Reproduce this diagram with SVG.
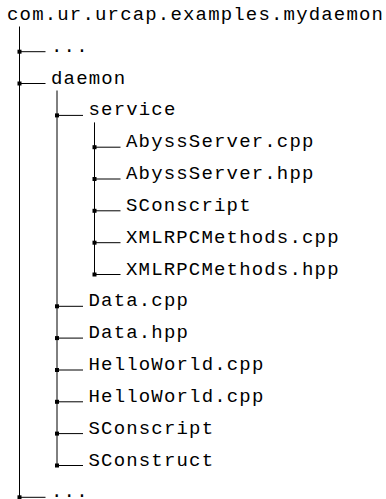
<svg xmlns="http://www.w3.org/2000/svg" width="386" height="499" viewBox="0 0 386 499">
  <style>
    text { font-family: "Liberation Mono", "DejaVu Sans Mono", monospace; font-size: 19px; letter-spacing: 1.17px; fill: #000; }
    .ln { stroke: #000; stroke-width: 1; fill: none; }
    .dot { fill: #000; }
  </style>
  <defs>
    <!-- one branch: junction square + horizontal stub -->
    <g id="branch">
      <line class="ln" x1="0" y1="0" x2="26" y2="0"/>
      <rect class="dot" x="-2" y="-2" width="4" height="4"/>
    </g>
  </defs>

  <!-- tree trunks and branches -->
  <g id="connectors">
    <line class="ln" x1="19.5" y1="26.5" x2="19.5" y2="497.3"/>
    <line class="ln" x1="57" y1="90.5" x2="57" y2="465.5"/>
    <line class="ln" x1="94.5" y1="122.4" x2="94.5" y2="274.5"/>

    <use href="#branch" x="19.5" y="51.7"/>
    <use href="#branch" x="19.5" y="83.5"/>
    <use href="#branch" x="57" y="115.4"/>
    <use href="#branch" x="94.5" y="147.2"/>
    <use href="#branch" x="94.5" y="179.0"/>
    <use href="#branch" x="94.5" y="210.8"/>
    <use href="#branch" x="94.5" y="242.7"/>
    <use href="#branch" x="94.5" y="274.5"/>
    <use href="#branch" x="57" y="306.3"/>
    <use href="#branch" x="57" y="338.1"/>
    <use href="#branch" x="57" y="370.0"/>
    <use href="#branch" x="57" y="401.8"/>
    <use href="#branch" x="57" y="433.6"/>
    <use href="#branch" x="57" y="465.5"/>
    <use href="#branch" x="19.5" y="497.3"/>
  </g>

  <g id="root"><text x="7" y="19.5">com.ur.urcap.examples.mydaemon</text></g>
  <g id="more-top"><text x="51" y="51.7">...</text></g>
  <g id="daemon"><text x="51" y="83.5">daemon</text></g>
  <g id="service"><text x="88.5" y="115.4">service</text></g>
  <g id="abyss-cpp"><text x="126" y="147.2">AbyssServer.cpp</text></g>
  <g id="abyss-hpp"><text x="126" y="179.0">AbyssServer.hpp</text></g>
  <g id="service-sconscript"><text x="126" y="210.8">SConscript</text></g>
  <g id="xmlrpc-cpp"><text x="126" y="242.7">XMLRPCMethods.cpp</text></g>
  <g id="xmlrpc-hpp"><text x="126" y="274.5">XMLRPCMethods.hpp</text></g>
  <g id="data-cpp"><text x="88.5" y="306.3">Data.cpp</text></g>
  <g id="data-hpp"><text x="88.5" y="338.1">Data.hpp</text></g>
  <g id="helloworld-1"><text x="88.5" y="370.0">HelloWorld.cpp</text></g>
  <g id="helloworld-2"><text x="88.5" y="401.8">HelloWorld.cpp</text></g>
  <g id="daemon-sconscript"><text x="88.5" y="433.6">SConscript</text></g>
  <g id="sconstruct"><text x="88.5" y="465.5">SConstruct</text></g>
  <g id="more-bottom"><text x="51" y="497.3">...</text></g>
</svg>
